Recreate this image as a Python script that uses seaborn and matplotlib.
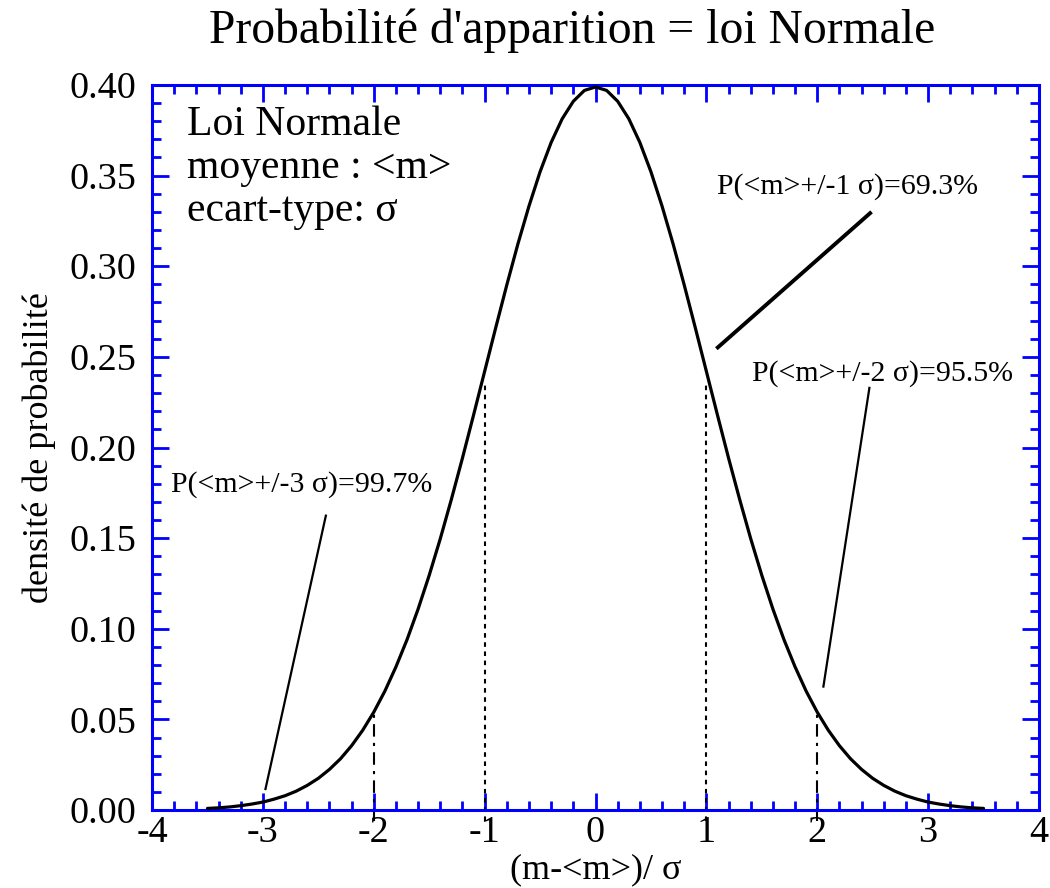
import matplotlib
matplotlib.use("Agg")
import matplotlib.pyplot as plt
import pandas as pd
import seaborn as sns
from matplotlib.ticker import MultipleLocator

# density curve (x in units of sigma)
x_vals = [-3.5, -3.4, -3.3, -3.2, -3.1, -3.0, -2.9, -2.8, -2.7, -2.6, -2.5, -2.4,
          -2.3, -2.2, -2.1, -2.0, -1.9, -1.8, -1.7, -1.6, -1.5, -1.4, -1.3, -1.2,
          -1.1, -1.0, -0.9, -0.8, -0.7, -0.6, -0.5, -0.4, -0.3, -0.2, -0.1, 0.0,
          0.1, 0.2, 0.3, 0.4, 0.5, 0.6, 0.7, 0.8, 0.9, 1.0, 1.1, 1.2,
          1.3, 1.4, 1.5, 1.6, 1.7, 1.8, 1.9, 2.0, 2.1, 2.2, 2.3, 2.4,
          2.5, 2.6, 2.7, 2.8, 2.9, 3.0, 3.1, 3.2, 3.3, 3.4, 3.5]
density = [0.0009, 0.0012, 0.0017, 0.0024, 0.0033, 0.0044, 0.0060, 0.0079, 0.0104, 0.0136, 0.0175, 0.0224,
           0.0283, 0.0355, 0.0440, 0.0540, 0.0656, 0.0790, 0.0940, 0.1109, 0.1295, 0.1497, 0.1714, 0.1942,
           0.2179, 0.2420, 0.2661, 0.2897, 0.3123, 0.3332, 0.3521, 0.3683, 0.3814, 0.3910, 0.3970, 0.3989,
           0.3970, 0.3910, 0.3814, 0.3683, 0.3521, 0.3332, 0.3123, 0.2897, 0.2661, 0.2420, 0.2179, 0.1942,
           0.1714, 0.1497, 0.1295, 0.1109, 0.0940, 0.0790, 0.0656, 0.0540, 0.0440, 0.0355, 0.0283, 0.0224,
           0.0175, 0.0136, 0.0104, 0.0079, 0.0060, 0.0044, 0.0033, 0.0024, 0.0017, 0.0012, 0.0009]

# vertical guides at +/-1 and +/-2 sigma
sig1_x = [-1, 1]
sig1_top = 0.235
sig2_x = [-2, 2]
sig2_top = 0.054

# annotation labels and pointer lines
labels = ["P(<m>+/-1 σ)=69.3%", "P(<m>+/-2 σ)=95.5%", "P(<m>+/-3 σ)=99.7%"]
label_pos = [(1.095, 0.340), (1.41, 0.237), (-3.83, 0.1756)]
pointers = [((1.09, 2.49), (0.2545, 0.330)),
            ((2.054, 2.472), (0.0675, 0.2335)),
            ((-2.979, -2.43), (0.011, 0.163))]
pointer_lw = [2.8, 1.6, 1.6]

info_lines = ["Loi Normale", "moyenne : <m>", "ecart-type: σ"]
info_y = [0.3724, 0.3487, 0.3250]

sns.set_theme(style="white")
plt.rcParams['font.family'] = ['Liberation Serif', 'DejaVu Serif']
plt.rcParams['text.color'] = 'black'
plt.rcParams['axes.labelcolor'] = 'black'
plt.rcParams['xtick.labelcolor'] = 'black'
plt.rcParams['ytick.labelcolor'] = 'black'

blue = "#0000ff"
fig = plt.figure(figsize=(10.5, 8.88), dpi=100)
ax = fig.add_axes([0.1448, 0.0878, 0.8447, 0.8165])

df = pd.DataFrame({"x": x_vals, "y": density})
sns.lineplot(data=df, x="x", y="y", ax=ax, color="black", lw=2.3, sort=False, zorder=3)

for xv in sig1_x:
    ax.plot([xv, xv], [-0.006, sig1_top], color="black", lw=1.5,
            linestyle=(0, (2.2, 2.2)), clip_on=False, zorder=2)
for xv in sig2_x:
    ax.plot([xv, xv], [-0.006, sig2_top], color="black", lw=1.5,
            linestyle=(0, (6, 3, 1.5, 3)), clip_on=False, zorder=2)

for (px, py), lw in zip(pointers, pointer_lw):
    ax.plot(px, py, color="black", lw=lw, solid_capstyle="butt")

for txt, (tx, ty) in zip(labels, label_pos):
    ax.text(tx, ty, txt, fontsize=21.5, va="baseline", ha="left", color="black")

for txt, ty in zip(info_lines, info_y):
    ax.text(-3.684, ty, txt, fontsize=30, va="baseline", ha="left", color="black")

ax.set_xlim(-4, 4)
ax.set_ylim(0, 0.40)
ax.xaxis.set_major_locator(MultipleLocator(1))
ax.xaxis.set_minor_locator(MultipleLocator(0.2))
ax.yaxis.set_major_locator(MultipleLocator(0.05))
ax.yaxis.set_minor_locator(MultipleLocator(0.01))
ax.xaxis.set_major_formatter(matplotlib.ticker.FuncFormatter(lambda v, p: f"{v:.0f}".replace("−", "-")))
ax.yaxis.set_major_formatter(matplotlib.ticker.FormatStrFormatter("%.2f"))

for s in ax.spines.values():
    s.set_color(blue)
    s.set_linewidth(2.2)
ax.tick_params(which="both", direction="in", color=blue, width=2,
               top=True, right=True, bottom=True, left=True, labelsize=27.5,
               labelcolor="black")
ax.tick_params(which="major", length=12)
ax.tick_params(which="minor", length=6.5)
ax.tick_params(axis="x", pad=4)
ax.tick_params(axis="y", pad=11)

ax.set_xlabel("(m-<m>)/ σ", fontsize=26, labelpad=2, color="black")
ax.set_ylabel("densité de probabilité", fontsize=26, labelpad=10, color="black")
fig.text(0.5452, 1 - 43 / 888, "Probabilité d'apparition = loi Normale",
         fontsize=34.3, ha="center", va="baseline", color="black")

fig.savefig("out.png", dpi=100, facecolor="white")
